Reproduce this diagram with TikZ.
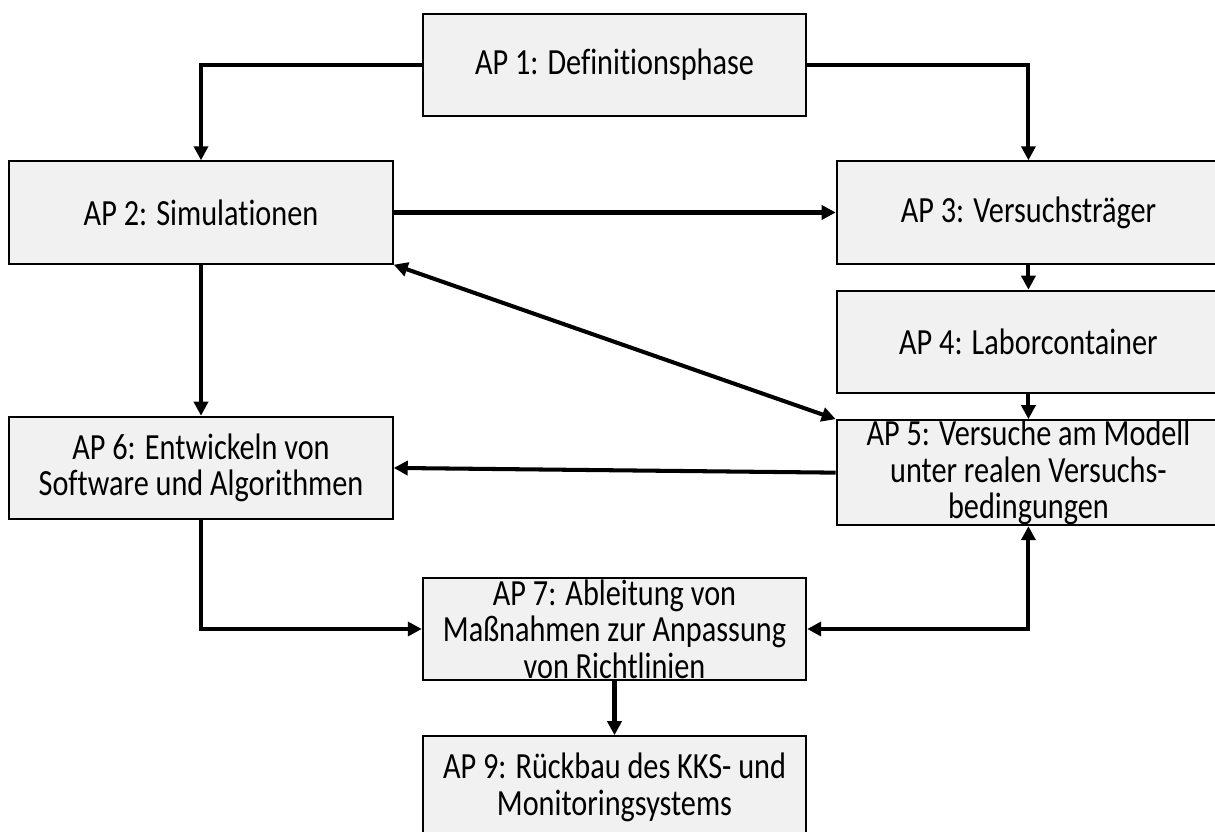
\documentclass[tikz,border=0pt]{standalone}
\usepackage{fontspec}
\setmainfont[FakeStretch=0.82, Ligatures=NoCommon]{Carlito}
\usetikzlibrary{arrows.meta, positioning}
\definecolor{boxgray}{HTML}{F1F1F1}

\begin{document}
\begin{tikzpicture}[
  font=\fontsize{21}{20.8}\selectfont,
  box/.style={draw, line width=1.1pt, fill=boxgray, align=center, minimum width=7.67cm, minimum height=2.05cm, inner sep=0pt},
  arrow/.style={-{Triangle[length=0.28cm, width=0.28cm]}, line width=2.3pt},
  biarrow/.style={{Triangle[length=0.28cm, width=0.28cm]}-{Triangle[length=0.28cm, width=0.28cm]}, line width=2.3pt}
]
\useasboundingbox (0,0) rectangle (24.3,-16.64);

% Definition
\node[box] (ap1) at (12.29,-1.30) {AP 1: Definitionsphase};

% Left column
\node[box] (ap2) at (4.02,-4.25) {AP 2: Simulationen};
\node[box, below=3.02cm of ap2] (ap6) {AP 6: Entwickeln von\\Software und Algorithmen};

% Right column
\node[box, right=8.84cm of ap2] (ap3) {AP 3: Versuchsträger};
\node[box, below=0.5cm of ap3] (ap4) {AP 4: Laborcontainer};
\node[box, below=0.5cm of ap4] (ap5) {AP 5: Versuche am Modell\\unter realen Versuchs-\\bedingungen};

% Bottom
\node[box] (ap7) at (12.29,-12.58) {AP 7: Ableitung von\\Maßnahmen zur Anpassung\\von Richtlinien};
\node[box, below=1.08cm of ap7] (ap9) {AP 9: Rückbau des KKS- und\\Monitoringsystems};

% Arrows
\draw[arrow] (ap1.west) -| (ap2.north);
\draw[arrow] (ap1.east) -| (ap3.north);
\draw[arrow] (ap2.east) -- (ap3.west);
\draw[arrow] (ap3.south) -- (ap4.north);
\draw[arrow] (ap4.south) -- (ap5.north);
\draw[arrow] (ap2.south) -- (ap6.north);
\draw[biarrow] (ap2.south east) -- (ap5.north west);
\draw[arrow] (ap5.west) -- (ap6.east);
\draw[arrow] (ap6.south) |- (ap7.west);
\draw[biarrow] (ap7.east) -| (ap5.south);
\draw[arrow] (ap7.south) -- (ap9.north);

\end{tikzpicture}
\end{document}
